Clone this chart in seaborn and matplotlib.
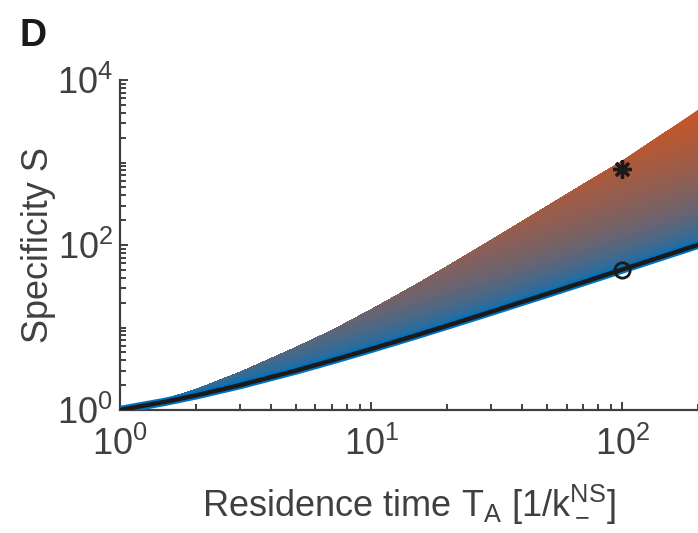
import numpy as np
import matplotlib
matplotlib.use('Agg')
import matplotlib.pyplot as plt
import seaborn as sns
from matplotlib.colors import LinearSegmentedColormap
from matplotlib.ticker import LogLocator, NullFormatter, FixedLocator

# values (log-log)
residence_time = [1, 1.5, 2, 3, 5, 7, 10, 15, 20, 30, 50, 70, 100, 150, 200]
specificity_low = [1, 1.25, 1.5, 2, 3, 4, 5.5, 8, 10.5, 15.5, 25.5, 35.5, 50.5, 75.5, 100.5]
specificity_high = [1, 1.35, 1.78, 2.88, 5.75, 9.3, 16.6, 33, 55, 115, 295, 550, 1050, 2400, 4370]
star_t, star_s = [100], [830]
circle_t, circle_s = [100], [50]

sns.set_theme(style='ticks')
plt.rcParams['font.family'] = ['Liberation Sans', 'DejaVu Sans']
plt.rcParams['mathtext.default'] = 'regular'
text_color = '#404040'
font_size = 26

fig = plt.figure(figsize=(6.98, 5.33), dpi=100)
ax = fig.add_axes([120 / 698, 1 - 410 / 533, 578 / 698, 330 / 533])
ax.set_xscale('log')
ax.set_yscale('log')

# gradient band: colour follows the log distance above the lower curve
band_cmap = LinearSegmentedColormap.from_list('band', ['#0072BD', '#6B6470', '#C4562A'])
t_arr = np.array(residence_time)
low_arr = np.array(specificity_low)
high_arr = np.array(specificity_high)
d_levels = np.linspace(0, 1.7, 171)
for d_lo, d_hi in reversed(list(zip(d_levels[:-1], d_levels[1:]))):
    y1 = np.minimum(low_arr * 10 ** d_lo, high_arr)
    y2 = np.minimum(low_arr * 10 ** d_hi, high_arr)
    if np.all(y2 <= y1):
        continue
    c = band_cmap(min(d_lo / 1.6, 1) ** 0.55)
    ax.fill_between(t_arr, y1, y2, facecolor=c, edgecolor=c, lw=0.8, zorder=2)

ax.plot(residence_time, specificity_low, color='#0072BD', lw=6, zorder=3,
        solid_capstyle='round')
sns.lineplot(x=residence_time, y=specificity_low, color='#1a1a1a', lw=3.2,
             ax=ax, zorder=4)
ax.plot(star_t, star_s, linestyle='none', marker=(8, 2, 0), ms=13, mew=2.4,
        color='#1a1a1a', zorder=5)
ax.plot(circle_t, circle_s, linestyle='none', marker='o', ms=11, mew=2,
        mfc='none', mec='#1a1a1a', zorder=5)

ax.set_xlim(1, 200)
ax.set_ylim(1, 1e4)
ax.yaxis.set_major_locator(FixedLocator([1, 1e2, 1e4]))
ax.yaxis.set_minor_locator(LogLocator(base=10, subs=np.arange(1, 10), numticks=20))
ax.yaxis.set_minor_formatter(NullFormatter())
ax.xaxis.set_minor_locator(LogLocator(base=10, subs=np.arange(2, 10), numticks=20))
ax.xaxis.set_minor_formatter(NullFormatter())

sns.despine(ax=ax)
for side in ['left', 'bottom']:
    ax.spines[side].set_color(text_color)
    ax.spines[side].set_linewidth(1.6)
ax.tick_params(which='both', direction='in', colors=text_color,
               labelsize=font_size, width=1.4)
ax.tick_params(which='major', length=6)
ax.tick_params(axis='x', which='major', pad=12)
ax.tick_params(axis='y', which='major', pad=5)
ax.tick_params(which='minor', length=4)

ax.set_xlabel('Residence time T$_A$ [1/k$_-^{NS}$]', fontsize=font_size,
              color=text_color, labelpad=14)
ax.set_ylabel('Specificity S', fontsize=font_size, color=text_color, labelpad=1)
fig.text(19 / 698, 1 - 46 / 533, 'D', fontsize=27, fontweight='bold',
         color='#1a1a1a')

fig.savefig('out.png', dpi=100)
